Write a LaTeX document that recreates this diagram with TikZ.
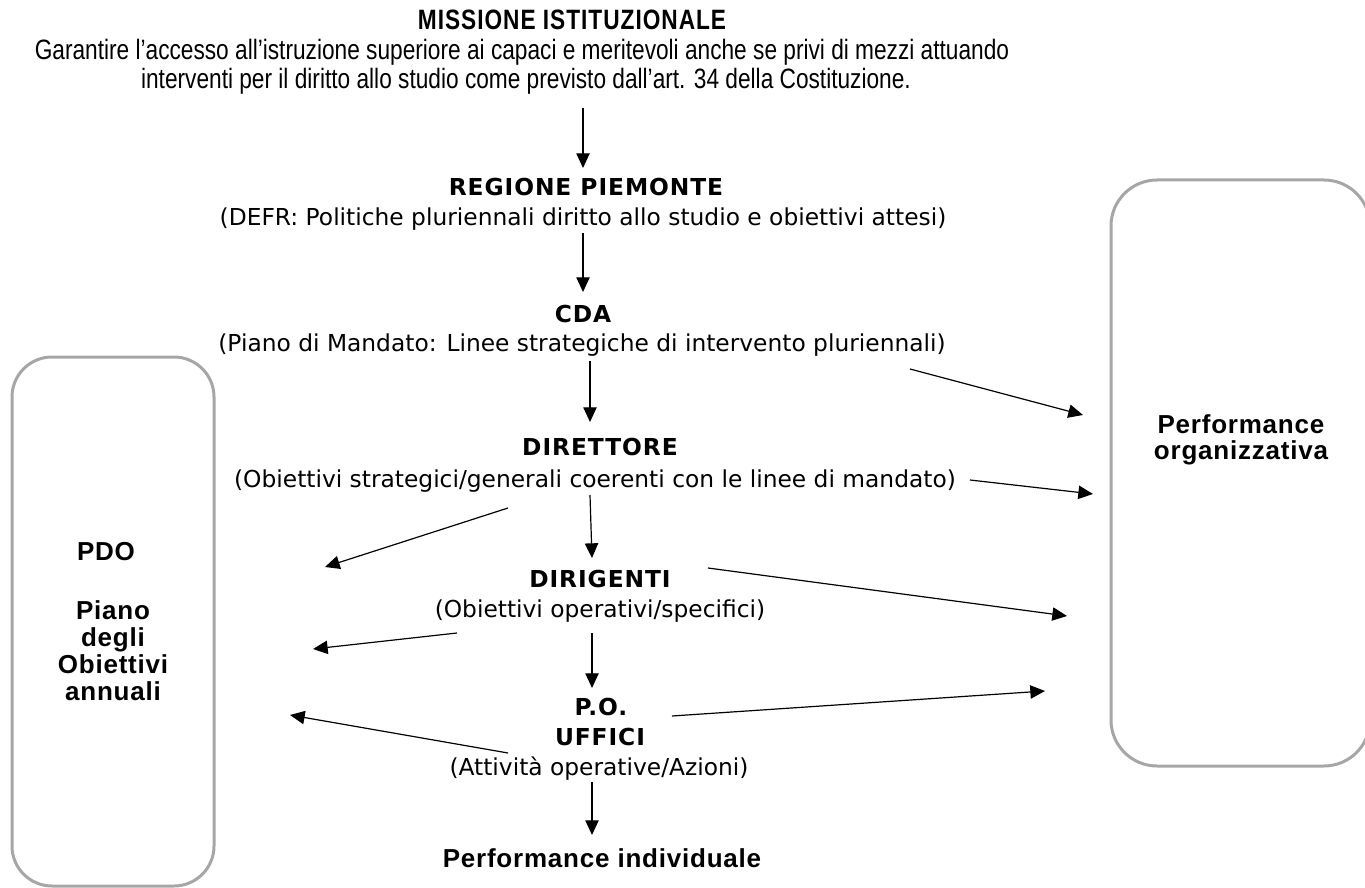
\documentclass[tikz,border=0pt]{standalone}
\usepackage{fontspec}
\setmainfont{DejaVu Sans}
\newfontfamily\headfont[LetterSpace=4]{DejaVu Sans}
\newfontfamily\perffont[LetterSpace=3]{Liberation Sans}
\newfontfamily\narrowfont[FakeStretch=0.81]{Liberation Sans}
\newfontfamily\narrowtitle[FakeStretch=0.81,LetterSpace=3.5]{Liberation Sans}
\usetikzlibrary{arrows.meta}
\definecolor{boxgray}{HTML}{A6A6A6}
\begin{document}
\begin{tikzpicture}[x=0.75pt,y=-0.75pt,
  body/.style={font=\fontsize{17.5}{21}\selectfont, inner sep=0pt, anchor=base},
  head/.style={font=\headfont\bfseries\fontsize{17.5}{21}\selectfont, inner sep=0pt, anchor=base},
  perf/.style={font=\perffont\bfseries\fontsize{19.5}{21}\selectfont, inner sep=0pt, anchor=base},
  narrow/.style={font=\narrowfont\fontsize{21}{21}\selectfont, inner sep=0pt, anchor=base},
  narrowb/.style={font=\narrowtitle\bfseries\fontsize{21}{21}\selectfont, inner sep=0pt, anchor=base},
  sidebox/.style={draw=boxgray, line width=2.25pt},
  flow/.style={-{Triangle[length=11pt,width=10pt]}, line width=0.9pt}]
\useasboundingbox (0,0) rectangle (1365,888);

% side boxes
\draw[sidebox, rounded corners=30pt] (12,357) rectangle (214,886);
\draw[sidebox, rounded corners=34.5pt] (1111,180) rectangle (1370,766);

% top block
\node[narrowb] (mis) at (572,30) {MISSIONE ISTITUZIONALE};
\node[narrow] (mis1) at (522,60) {Garantire l’accesso all’istruzione superiore ai capaci e meritevoli anche se privi di mezzi attuando};
\node[narrow] (mis2) at (526,89) {interventi per il diritto allo studio come previsto dall’art. 34 della Costituzione.};

\node[head] (reg) at (586,196) {REGIONE PIEMONTE};
\node[body] (reg1) at (583,226) {(DEFR: Politiche pluriennali diritto allo studio e obiettivi attesi)};

\node[head] (cda) at (583,323) {CDA};
\node[body] (cda1) at (582,351) {(Piano di Mandato: Linee strategiche di intervento pluriennali)};

\node[head] (dir) at (600,455) {DIRETTORE};
\node[body] (dir1) at (595,487) {(Obiettivi strategici/generali coerenti con le linee di mandato)};

\node[head] (dgt) at (600,587) {DIRIGENTI};
\node[body] (dgt1) at (600,617) {(Obiettivi operativi/specifici)};

\node[head] (po) at (601,715) {P.O.};
\node[head] (uff) at (600,745) {UFFICI};
\node[body] (uff1) at (599,775) {(Attività operative/Azioni)};

\node[perf] (pind) at (602,867) {Performance individuale};

\node[perf] (porg1) at (1241,433) {Performance};
\node[perf] (porg2) at (1241,459) {organizzativa};

\node[perf] (pdo) at (106,560) {PDO};
\node[perf] (pdo1) at (113,619) {Piano};
\node[perf] (pdo2) at (113,646) {degli};
\node[perf] (pdo3) at (113,673) {Obiettivi};
\node[perf] (pdo4) at (113,700) {annuali};

% arrow end points
\coordinate (a1s) at (583,108); \coordinate (a1e) at (583,168);
\coordinate (a2s) at (583,233); \coordinate (a2e) at (583,292);
\coordinate (a3s) at (590,361); \coordinate (a3e) at (590,422);
\coordinate (a4s) at (590,495); \coordinate (a4e) at (592,558);
\coordinate (a5s) at (592,633); \coordinate (a5e) at (592,688);
\coordinate (a6s) at (592,782); \coordinate (a6e) at (592,835);
\coordinate (r1s) at (910,369); \coordinate (r1e) at (1083,415);
\coordinate (r2s) at (970,480); \coordinate (r2e) at (1093,494);
\coordinate (r3s) at (708,568); \coordinate (r3e) at (1067,616);
\coordinate (r4s) at (672,716); \coordinate (r4e) at (1045,691);
\coordinate (l1s) at (508,508); \coordinate (l1e) at (325,567);
\coordinate (l2s) at (457,633); \coordinate (l2e) at (313,649);
\coordinate (l3s) at (508,753); \coordinate (l3e) at (290,715);

\foreach \a in {a1,a2,a3,a4,a5,a6,r1,r2,r3,r4,l1,l2,l3}
  \draw[flow] (\a s) -- (\a e);
\end{tikzpicture}
\end{document}
